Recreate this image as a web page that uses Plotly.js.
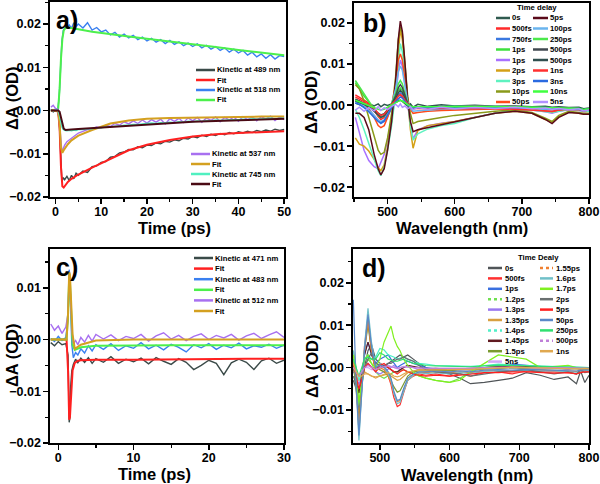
<!DOCTYPE html>
<html>
<head>
<meta charset="utf-8">
<script src="https://cdn.plot.ly/plotly-3.0.1.min.js"></script>
<style>body{margin:0;background:#fff} #chart{width:600px;height:484px}</style>
</head>
<body>
<div id="chart"></div>
<script>
// ---- panel a: kinetics, 0-50 ps ----
var ta = [-1,-0.5,0,0.5,0.8,1.1,1.4,1.7,2,2.5,
  3,3.5,4,4.5,5,6,7,8,9,10,
  11,12,13,14,15,16,17,18,19,20,
  21,22,23,24,25,26,27,28,29,30,
  31,32,33,34,35,36,37,38,39,40,
  41,42,43,44,45,46,47,48,49,50];
var k489 = [0.0002,-0.0003,0.0001,-0.0002,-0.002,-0.011,-0.0165,-0.0155,-0.0160,-0.0152,
  -0.0162,-0.0150,-0.0158,-0.0145,-0.0150,-0.0140,-0.0143,-0.0130,-0.0128,-0.0120,
  -0.0118,-0.0108,-0.0106,-0.0098,-0.0096,-0.0090,-0.0091,-0.0084,-0.0086,-0.0080,
  -0.0081,-0.0075,-0.0077,-0.0071,-0.0073,-0.0068,-0.0070,-0.0064,-0.0066,-0.0060,
  -0.0063,-0.0057,-0.0060,-0.0055,-0.0058,-0.0053,-0.0056,-0.0051,-0.0054,-0.0049,
  -0.0052,-0.0048,-0.0051,-0.0046,-0.0049,-0.0045,-0.0048,-0.0043,-0.0046,-0.0044];
var k518 = [0.0003,-0.0002,0.0004,0.0002,0.003,0.010,0.016,0.0185,0.019,0.0195,
  0.0198,0.0190,0.0203,0.0194,0.0200,0.0191,0.0203,0.0186,0.0192,0.0182,
  0.0186,0.0175,0.0181,0.0170,0.0177,0.0168,0.0174,0.0164,0.0170,0.0161,
  0.0167,0.0158,0.0164,0.0155,0.0162,0.0153,0.0159,0.0150,0.0156,0.0148,
  0.0154,0.0145,0.0151,0.0142,0.0148,0.0139,0.0145,0.0135,0.0142,0.0133,
  0.0139,0.0128,0.0135,0.0124,0.0131,0.0121,0.0129,0.0119,0.0127,0.0125];
var k537 = [0.0008,0.0012,0.0005,0.0003,-0.002,-0.007,-0.0095,-0.0088,-0.0080,-0.0072,
  -0.0068,-0.0062,-0.0060,-0.0055,-0.0052,-0.0048,-0.0044,-0.0042,-0.0038,-0.0040,
  -0.0034,-0.0037,-0.0030,-0.0034,-0.0026,-0.0031,-0.0024,-0.0030,-0.0022,-0.0029,
  -0.0021,-0.0027,-0.0020,-0.0031,-0.0019,-0.0025,-0.0018,-0.0028,-0.0017,-0.0024,
  -0.0016,-0.0027,-0.0017,-0.0023,-0.0015,-0.0026,-0.0016,-0.0022,-0.0015,-0.0025,
  -0.0014,-0.0021,-0.0015,-0.0024,-0.0014,-0.0020,-0.0013,-0.0023,-0.0015,-0.0021];
var k745 = [0.0001,-0.0001,0.0002,0,-0.0008,-0.0025,-0.0038,-0.0044,-0.0046,-0.0047,
  -0.0046,-0.0047,-0.0045,-0.0046,-0.0044,-0.0044,-0.0042,-0.0042,-0.0040,-0.0040,
  -0.0038,-0.0038,-0.0036,-0.0036,-0.0034,-0.0034,-0.0032,-0.0032,-0.0031,-0.0031,
  -0.0029,-0.0030,-0.0028,-0.0029,-0.0027,-0.0028,-0.0026,-0.0027,-0.0025,-0.0026,
  -0.0024,-0.0025,-0.0023,-0.0024,-0.0022,-0.0023,-0.0022,-0.0022,-0.0021,-0.0021,
  -0.0020,-0.0021,-0.0019,-0.0020,-0.0019,-0.0019,-0.0018,-0.0019,-0.0018,-0.0018];
var tf = [-1,0,0.6,0.9,1.2,1.5,1.8,2.2,2.7,3.5,5,8,12,16,20,25,30,35,40,45,50];
var fit489 = [0,0,-0.0003,-0.004,-0.013,-0.0175,-0.0178,-0.0172,-0.0165,-0.0158,-0.0148,-0.0132,-0.0112,-0.0092,-0.0079,-0.0068,-0.0060,-0.0055,-0.0052,-0.0050,-0.0048];
var fit518 = [0,0,0.0005,0.005,0.012,0.0165,0.0185,0.0191,0.0192,0.0191,0.0188,0.0182,0.0176,0.0171,0.0166,0.0160,0.0154,0.0147,0.0140,0.0134,0.0128];
var fit537 = [0,0,-0.0002,-0.003,-0.0085,-0.0098,-0.0092,-0.0085,-0.0078,-0.0069,-0.0058,-0.0045,-0.0030,-0.0023,-0.0019,-0.0017,-0.0016,-0.0015,-0.0015,-0.0014,-0.0014];
var fit745 = [0,0,0,-0.0003,-0.0015,-0.0032,-0.0042,-0.0045,-0.0045,-0.0044,-0.0043,-0.0041,-0.0038,-0.0035,-0.0032,-0.0029,-0.0026,-0.0024,-0.0022,-0.0020,-0.0019];

// ---- panel b: spectra 450-800 nm ----
var wb = [452,458,465,472,480,486,490,495,500,506,512,
  516,519,522,526,530,534,538,545,560,580,600,
  630,660,690,715,735,745,755,770,785,792,800];
var bNames = ['0s','500fs','750fs','1ps','1ps','2ps','3ps','10ps','50ps',
  '5ps','100ps','250ps','500ps','500ps','1ns','3ns','10ns','5ns'];
var bColors = ['#2f5a4f','#ff2a2a','#3a78e0','#3ee03e','#a870ff','#d4a017','#5ef2c0','#8a9a1a','#ff4a1a',
  '#5a0a1a','#6ab4ee','#4be84b','#404850','#2f4f4f','#ff3030','#2a6ae0','#40ff40','#b090ff'];
var bSpectra = [
  [0.0005,0.0002,-0.0003,0.0004,-0.0002,0.0003,-0.0004,0.0002,-0.0001,0.0003,0.0006,
   0.0010,0.0012,0.0009,0.0004,-0.0002,0.0003,-0.0005,0.0002,-0.0003,0.0001,-0.0002,
   0.0000,-0.0003,-0.0002,-0.0004,-0.0003,-0.0005,-0.0004,-0.0006,-0.0005,-0.0009,-0.0007],
  [0.0025,0.0018,0.0012,0.0005,-0.0012,-0.0028,-0.0035,-0.0030,-0.0018,0.0002,0.0012,
   0.0022,0.0025,0.0020,0.0010,0.0002,-0.0005,-0.0008,-0.0006,-0.0005,-0.0004,-0.0004,
   -0.0003,-0.0004,-0.0005,-0.0006,-0.0007,-0.0008,-0.0007,-0.0008,-0.0009,-0.0012,-0.0010],
  [0.0010,0.0006,0.0000,-0.0010,-0.0025,-0.0038,-0.0045,-0.0040,-0.0028,-0.0008,0.0010,
   0.0025,0.0030,0.0026,0.0014,0.0002,-0.0004,-0.0006,-0.0005,-0.0004,-0.0004,-0.0003,
   -0.0003,-0.0003,-0.0004,-0.0005,-0.0006,-0.0007,-0.0006,-0.0007,-0.0008,-0.0011,-0.0009],
  [0.0055,0.0040,0.0022,0.0008,-0.0008,-0.0022,-0.0030,-0.0026,-0.0015,0.0002,0.0018,
   0.0035,0.0042,0.0036,0.0018,0.0004,-0.0003,-0.0006,-0.0005,-0.0004,-0.0004,-0.0003,
   -0.0003,-0.0003,-0.0004,-0.0005,-0.0006,-0.0007,-0.0006,-0.0007,-0.0008,-0.0011,-0.0009],
  [-0.0030,-0.0065,-0.0110,-0.0135,-0.0150,-0.0155,-0.0140,-0.0120,-0.0085,-0.0035,0.0020,
   0.0080,0.0110,0.0095,0.0050,-0.0005,-0.0045,-0.0082,-0.0060,-0.0050,-0.0044,-0.0040,
   -0.0030,-0.0020,-0.0013,-0.0012,-0.0016,-0.0020,-0.0015,-0.0011,-0.0013,-0.0016,-0.0015],
  [-0.0080,-0.0095,-0.0100,-0.0112,-0.0132,-0.0152,-0.0160,-0.0145,-0.0102,-0.0040,0.0045,
   0.0140,0.0185,0.0160,0.0080,0.0000,-0.0060,-0.0105,-0.0062,-0.0050,-0.0045,-0.0040,
   -0.0030,-0.0020,-0.0015,-0.0020,-0.0035,-0.0042,-0.0028,-0.0017,-0.0020,-0.0022,-0.0022],
  [-0.0010,-0.0030,-0.0060,-0.0092,-0.0130,-0.0160,-0.0172,-0.0150,-0.0110,-0.0050,0.0030,
   0.0110,0.0150,0.0130,0.0070,0.0000,-0.0050,-0.0085,-0.0070,-0.0058,-0.0050,-0.0045,
   -0.0030,-0.0020,-0.0012,-0.0012,-0.0015,-0.0018,-0.0015,-0.0010,-0.0012,-0.0015,-0.0015],
  [0.0050,0.0040,0.0010,-0.0030,-0.0080,-0.0110,-0.0120,-0.0115,-0.0080,-0.0020,0.0070,
   0.0160,0.0190,0.0175,0.0100,0.0020,-0.0020,-0.0045,-0.0040,-0.0035,-0.0030,-0.0025,
   -0.0020,-0.0015,-0.0012,-0.0018,-0.0032,-0.0040,-0.0025,-0.0015,-0.0018,-0.0020,-0.0020],
  [0.0010,0.0010,0.0000,-0.0010,-0.0030,-0.0050,-0.0055,-0.0050,-0.0030,0.0000,0.0050,
   0.0110,0.0125,0.0110,0.0060,0.0010,-0.0010,-0.0020,-0.0018,-0.0015,-0.0013,-0.0012,
   -0.0010,-0.0008,-0.0008,-0.0010,-0.0014,-0.0016,-0.0012,-0.0008,-0.0010,-0.0012,-0.0012],
  [-0.0020,-0.0020,-0.0030,-0.0060,-0.0120,-0.0155,-0.0170,-0.0155,-0.0110,-0.0040,0.0060,
   0.0160,0.0205,0.0180,0.0100,0.0010,-0.0040,-0.0065,-0.0060,-0.0055,-0.0048,-0.0040,
   -0.0030,-0.0020,-0.0015,-0.0020,-0.0035,-0.0045,-0.0030,-0.0018,-0.0020,-0.0022,-0.0022],
  [0.0008,0.0005,-0.0002,-0.0012,-0.0025,-0.0036,-0.0040,-0.0036,-0.0022,0.0002,0.0040,
   0.0082,0.0095,0.0085,0.0045,0.0008,-0.0008,-0.0015,-0.0014,-0.0012,-0.0010,-0.0009,
   -0.0008,-0.0007,-0.0007,-0.0008,-0.0010,-0.0012,-0.0010,-0.0008,-0.0009,-0.0011,-0.0010],
  [0.0060,0.0045,0.0025,0.0008,-0.0010,-0.0025,-0.0030,-0.0026,-0.0014,0.0004,0.0028,
   0.0052,0.0060,0.0052,0.0028,0.0005,-0.0005,-0.0008,-0.0007,-0.0006,-0.0005,-0.0005,
   -0.0004,-0.0004,-0.0005,-0.0006,-0.0007,-0.0008,-0.0007,-0.0008,-0.0009,-0.0012,-0.0010],
  [0.0015,0.0010,0.0004,-0.0004,-0.0015,-0.0025,-0.0030,-0.0026,-0.0015,0.0002,0.0022,
   0.0042,0.0050,0.0043,0.0022,0.0004,-0.0005,-0.0008,-0.0007,-0.0006,-0.0005,-0.0005,
   -0.0004,-0.0004,-0.0005,-0.0006,-0.0007,-0.0008,-0.0007,-0.0008,-0.0009,-0.0012,-0.0010],
  [0.0010,0.0007,0.0002,-0.0004,-0.0012,-0.0020,-0.0024,-0.0021,-0.0012,0.0001,0.0016,
   0.0030,0.0036,0.0031,0.0016,0.0002,-0.0005,-0.0007,-0.0006,-0.0005,-0.0005,-0.0004,
   -0.0004,-0.0004,-0.0005,-0.0006,-0.0007,-0.0008,-0.0007,-0.0008,-0.0009,-0.0012,-0.0010],
  [0.0020,0.0015,0.0008,0.0002,-0.0008,-0.0020,-0.0025,-0.0022,-0.0012,0.0002,0.0012,
   0.0022,0.0026,0.0022,0.0012,0.0003,-0.0005,-0.0008,-0.0008,-0.0008,-0.0008,-0.0008,
   -0.0008,-0.0009,-0.0010,-0.0012,-0.0014,-0.0015,-0.0012,-0.0010,-0.0011,-0.0014,-0.0012],
  [0.0005,0.0002,-0.0006,-0.0016,-0.0030,-0.0040,-0.0044,-0.0038,-0.0024,-0.0006,0.0008,
   0.0016,0.0020,0.0017,0.0008,0.0000,-0.0005,-0.0007,-0.0006,-0.0006,-0.0005,-0.0005,
   -0.0005,-0.0005,-0.0006,-0.0007,-0.0008,-0.0009,-0.0008,-0.0009,-0.0010,-0.0013,-0.0011],
  [0.0012,0.0008,0.0003,-0.0002,-0.0006,-0.0010,-0.0012,-0.0010,-0.0005,0.0001,0.0006,
   0.0010,0.0012,0.0010,0.0005,0.0000,-0.0003,-0.0004,-0.0004,-0.0003,-0.0003,-0.0003,
   -0.0003,-0.0003,-0.0004,-0.0005,-0.0006,-0.0006,-0.0006,-0.0007,-0.0008,-0.0011,-0.0009],
  [-0.0012,-0.0005,-0.0015,-0.0006,-0.0014,-0.0004,-0.0013,-0.0006,-0.0011,-0.0003,0.0002,
   -0.0004,0.0003,-0.0005,-0.0002,-0.0009,-0.0004,-0.0011,-0.0006,-0.0010,-0.0005,-0.0009,
   -0.0006,-0.0008,-0.0005,-0.0009,-0.0007,-0.0010,-0.0008,-0.0011,-0.0009,-0.0014,-0.0012]
];

// ---- panel c: kinetics, 0-30 ps ----
var tc = [-1,-0.5,0,0.5,1,1.3,1.45,1.55,1.65,1.8,2,2.3,2.6,3,3.5,4,4.5,5,
  6,7,8,9,10,11,12,13,14,15,16,17,18,19,20,21,22,23,24,25,26,27,28,29,30];
var k471 = [-0.0006,-0.0012,-0.0004,-0.0010,-0.0008,-0.003,-0.0160,-0.0150,-0.009,-0.006,-0.0048,-0.0038,-0.0045,-0.0036,-0.0044,-0.0035,-0.0046,-0.0037,
  -0.0044,-0.0033,-0.0046,-0.0038,-0.0043,-0.0036,-0.0047,-0.0035,-0.0042,-0.0048,-0.0037,-0.0044,-0.0058,-0.0050,-0.0040,-0.0046,-0.0068,-0.0045,-0.0038,-0.0044,-0.0058,-0.0041,-0.0036,-0.0046,-0.0040];
var k483 = [0.0002,-0.0004,0.0006,-0.0002,0.0004,0.004,0.0135,0.012,0.006,-0.001,-0.0035,-0.0025,-0.0030,-0.0018,-0.0026,-0.0012,-0.0022,-0.0010,
  -0.0019,-0.0008,-0.0021,-0.0012,-0.0017,-0.0006,-0.0018,-0.0011,-0.0020,-0.0009,-0.0015,-0.0024,-0.0010,-0.0016,-0.0008,-0.0019,-0.0011,-0.0016,-0.0007,-0.0018,-0.0012,-0.0015,-0.0009,-0.0017,-0.0011];
var k512 = [0.0030,0.0018,0.0026,0.0012,0.0024,0.005,0.0125,0.0120,0.007,0.002,-0.0008,-0.0002,-0.0010,0.0004,-0.0005,0.0008,-0.0003,0.0010,
  0.0001,0.0009,-0.0002,0.0006,0.0002,0.0010,-0.0003,0.0007,0.0013,0.0001,0.0008,-0.0002,0.0006,0.0011,0.0000,0.0008,0.0003,0.0010,-0.0001,0.0007,0.0012,0.0002,0.0009,0.0015,0.0004];
var tcf = [-1,1.1,1.3,1.45,1.55,1.7,1.9,2.2,2.6,3,5,10,15,20,25,30];
var fit471 = [0,0,-0.006,-0.0155,-0.0150,-0.010,-0.006,-0.0045,-0.0041,-0.0040,-0.0039,-0.0039,-0.0038,-0.0038,-0.0037,-0.0037];
var fit483 = [0,0,0.005,0.012,0.011,0.004,-0.001,-0.002,-0.0018,-0.0015,-0.0012,-0.0011,-0.0011,-0.0011,-0.0011,-0.0011];
var fit512 = [0,0,0.005,0.013,0.0125,0.006,0.001,-0.0018,-0.0014,-0.0010,-0.0002,0,0,0,0,0];

// ---- panel d: spectra 460-800 nm ----
var wd = [462,466,470,474,478,483,488,494,500,506,512,516,
  520,525,529,534,540,548,556,566,580,600,615,630,
  650,670,690,710,730,750,770,782,788,794,800];
var dNames = ['0s','500fs','1ps','1.2ps','1.3ps','1.35ps','1.4ps','1.45ps','1.5ps','5ns',
  '1.55ps','1.6ps','1.7ps','2ps','5ps','50ps','250ps','500ps','1ns'];
var dColors = ['#505558','#ff3030','#3a70e0','#70e050','#9a78f0','#d8a040','#50f0c8','#601a20','#7a9a30','#d0a8f8',
  '#f08030','#70c0c8','#80f020','#6a7070','#ff2020','#5a88c8','#30e070','#c080d8','#e0a850'];
var dDash = ['solid','solid','solid','dot','solid','solid','dot','solid','solid','solid',
  'dot','solid','solid','solid','solid','solid','solid','dot','solid'];
var dSpectra = [
  [-0.003,-0.005,-0.006,-0.004,0.000,0.004,0.0055,0.002,0.001,0.0005,0.001,0.0015,
   0.002,0.0025,0.003,0.0025,0.003,0.002,0.001,0.000,-0.001,-0.0015,-0.0025,-0.0038,
   -0.0035,-0.003,-0.0025,-0.0012,-0.0018,-0.0028,-0.0022,-0.0038,-0.0008,-0.0035,-0.0018],
  [0.002,-0.004,-0.015,-0.006,0.005,0.012,0.004,-0.001,0.001,0.000,-0.002,-0.004,
   -0.007,-0.0092,-0.0088,-0.006,-0.003,-0.002,-0.0015,-0.0018,-0.0015,-0.002,-0.0015,-0.002,
   -0.0012,-0.001,-0.0015,-0.0008,-0.001,-0.001,-0.0012,-0.0015,-0.001,-0.0008,-0.0008],
  [0.001,-0.003,-0.010,-0.004,0.003,0.006,0.003,0.001,0.002,0.0025,0.003,0.002,
   0.001,0.000,0.0005,0.001,0.0015,0.001,0.0005,0.000,-0.0003,-0.0005,-0.0003,-0.0005,
   0.000,0.0003,0.0008,0.0005,0.0002,0.000,-0.0003,0.0000,-0.0004,-0.0002,-0.0003],
  [0.004,0.000,-0.009,-0.005,0.000,0.002,0.001,-0.001,-0.002,-0.0025,-0.002,-0.0015,
   -0.001,-0.001,-0.0008,-0.0005,-0.001,-0.0015,-0.002,-0.0025,-0.003,-0.0035,-0.0025,-0.001,
   0.000,0.0005,0.0004,0.0003,0.000,-0.0002,0.0000,-0.0002,0.0000,-0.0003,-0.0001],
  [-0.001,-0.002,-0.004,-0.002,0.000,0.001,0.000,-0.001,-0.0015,-0.001,-0.0005,0.000,
   0.0005,0.000,-0.0005,0.000,0.0005,0.000,-0.0005,-0.0008,-0.0006,-0.0008,-0.0005,-0.0006,
   -0.0003,-0.0002,0.0000,-0.0002,-0.0003,-0.0002,-0.0004,-0.0002,-0.0005,-0.0003,-0.0004],
  [0.000,-0.002,-0.003,-0.002,-0.001,-0.0015,-0.002,-0.0025,-0.002,-0.0018,-0.0015,-0.002,
   -0.0025,-0.003,-0.0028,-0.002,-0.0012,-0.0008,-0.0005,-0.0005,-0.0004,-0.0004,-0.0003,-0.0003,
   -0.0001,0.0000,0.0002,0.0001,0.0000,-0.0001,-0.0002,-0.0001,-0.0002,-0.0002,-0.0003],
  [0.002,0.000,-0.003,-0.001,0.002,0.003,0.002,0.0025,0.0045,0.0042,0.003,0.0028,
   0.0025,0.002,0.0022,0.0025,0.002,0.0015,0.001,0.0008,0.0005,0.0004,0.0004,0.0003,
   0.0005,0.0008,0.0006,0.0005,0.0003,0.0002,0.0001,0.0002,0.0000,0.0001,0.0000],
  [0.000,-0.003,-0.006,-0.002,0.003,0.006,0.003,0.000,0.0005,0.0005,0.000,-0.0005,
   -0.001,-0.001,-0.0005,0.000,0.0005,0.0003,0.0000,-0.0003,-0.0002,-0.0004,-0.0003,-0.0002,
   0.0000,0.0002,0.0003,0.0002,0.0001,0.0000,-0.0001,0.0000,-0.0002,-0.0001,-0.0002],
  [0.001,-0.005,-0.012,-0.005,0.004,0.010,0.004,0.000,-0.0005,-0.001,-0.002,-0.003,
   -0.0045,-0.0058,-0.0055,-0.004,-0.002,-0.001,-0.0008,-0.0008,-0.0006,-0.0007,-0.0005,-0.0005,
   -0.0003,-0.0002,0.0000,-0.0002,-0.0003,-0.0002,-0.0003,-0.0002,-0.0004,-0.0003,-0.0003],
  [0.000,-0.001,-0.002,-0.001,0.000,0.000,-0.0005,-0.0005,0.000,0.0003,0.0005,0.0003,
   0.000,-0.0003,0.000,0.0003,0.0002,0.0000,-0.0002,-0.0003,-0.0002,-0.0003,-0.0002,-0.0002,
   -0.0001,0.0000,0.0001,0.0000,-0.0001,0.0000,-0.0001,0.0000,-0.0002,-0.0001,-0.0001],
  [0.003,-0.003,-0.014,-0.006,0.004,0.011,0.004,-0.001,0.000,-0.0005,-0.002,-0.0035,
   -0.006,-0.008,-0.0078,-0.0055,-0.003,-0.0018,-0.0012,-0.0012,-0.001,-0.0012,-0.001,-0.0012,
   -0.0008,-0.0006,-0.0008,-0.0005,-0.0006,-0.0006,-0.0008,-0.0009,-0.0007,-0.0006,-0.0006],
  [0.004,-0.004,-0.0172,-0.007,0.005,0.014,0.006,0.000,0.001,0.000,-0.0015,-0.003,
   -0.006,-0.0085,-0.0082,-0.0058,-0.003,-0.0018,-0.0012,-0.0014,-0.0012,-0.0015,-0.0012,-0.0014,
   -0.0009,-0.0007,-0.0009,-0.0006,-0.0008,-0.0008,-0.0009,-0.0011,-0.0008,-0.0007,-0.0007],
  [0.003,-0.002,-0.008,-0.003,0.002,0.003,0.001,0.000,0.002,0.006,0.0085,0.0098,
   0.007,0.005,0.004,0.002,0.0005,-0.001,-0.002,-0.0025,-0.003,-0.0035,-0.003,-0.001,
   0.001,0.003,0.0025,0.002,0.000,0.0003,0.0005,0.0000,0.0000,-0.0003,0.0000],
  [-0.002,-0.004,-0.005,-0.003,0.000,0.002,0.0035,0.001,0.0005,0.000,0.001,0.001,
   0.0015,0.002,0.002,0.0025,0.002,0.0015,0.0005,-0.0005,-0.001,-0.0012,-0.0015,-0.002,
   -0.0015,-0.001,-0.0008,-0.0005,-0.001,-0.0015,-0.001,-0.0015,-0.0005,-0.0012,-0.001],
  [0.001,-0.002,-0.005,-0.003,0.000,0.001,0.000,-0.001,0.0005,0.001,0.000,-0.0005,
   -0.001,-0.0015,-0.001,-0.0005,-0.001,-0.0015,-0.0018,-0.002,-0.0018,-0.002,-0.0018,-0.0015,
   -0.0012,-0.0012,-0.001,-0.001,-0.0012,-0.0013,-0.0012,-0.0015,-0.0012,-0.001,-0.001],
  [0.016,-0.004,-0.016,-0.007,0.004,0.0125,0.005,0.000,0.0005,0.0003,-0.001,-0.0025,
   -0.0055,-0.0078,-0.0075,-0.005,-0.0025,-0.0015,-0.001,-0.001,-0.0008,-0.001,-0.0008,-0.001,
   -0.0006,-0.0005,-0.0006,-0.0004,-0.0005,-0.0005,-0.0006,-0.0008,-0.0006,-0.0005,-0.0005],
  [0.002,0.000,-0.002,0.000,0.002,0.0025,0.002,0.002,0.0035,0.003,0.002,0.0018,
   0.0015,0.0015,0.0018,0.002,0.0015,0.001,0.0008,0.0005,0.0004,0.0003,0.0004,0.0002,
   0.0004,0.0006,0.0005,0.0004,0.0003,0.0002,0.0001,0.0002,0.0000,0.0001,0.0000],
  [0.000,-0.001,-0.002,-0.001,0.000,0.0005,0.000,-0.0005,0.000,0.0002,0.0004,0.0002,
   0.000,-0.0002,0.000,0.0002,0.0001,0.0000,-0.0002,-0.0002,-0.0002,-0.0002,-0.0001,-0.0002,
   0.0000,0.0001,0.0001,0.0000,-0.0001,0.0000,-0.0001,0.0000,-0.0001,-0.0001,-0.0001],
  [0.001,-0.001,-0.002,-0.002,-0.0015,-0.0015,-0.002,-0.0022,-0.002,-0.0015,-0.0012,-0.0015,
   -0.002,-0.0022,-0.002,-0.0015,-0.001,-0.0008,-0.0006,-0.0006,-0.0005,-0.0005,-0.0004,-0.0004,
   -0.0002,-0.0001,0.0001,0.0000,-0.0001,-0.0001,-0.0002,-0.0002,-0.0003,-0.0002,-0.0003]
];

var FONT = 'Liberation Sans, Arial, sans-serif';
var traces = [];
function line(x, y, color, xa, ya, w, dash) {
  traces.push({x: x, y: y, type: 'scatter', mode: 'lines', xaxis: xa, yaxis: ya,
    line: {color: color, width: w, dash: dash || 'solid'}, hoverinfo: 'skip'});
}

// panel a
line(ta, k518, '#3a80f0', 'x', 'y', 1.4);
line(tf, fit518, '#4cf04c', 'x', 'y', 2);
line(ta, k489, '#3a4a48', 'x', 'y', 1.4);
line(tf, fit489, '#ff2020', 'x', 'y', 2);
line(ta, k537, '#a870f0', 'x', 'y', 1.4);
line(tf, fit537, '#d4a020', 'x', 'y', 2);
line(ta, k745, '#50f0c0', 'x', 'y', 1.4);
line(tf, fit745, '#4a0a14', 'x', 'y', 2);
// panel b
bSpectra.forEach(function (s, i) { line(wb, s, bColors[i], 'x2', 'y2', 1.5); });
// panel c
line(tc, k471, '#3a4a48', 'x3', 'y3', 1.4);
line(tcf, fit471, '#ff2020', 'x3', 'y3', 2);
line(tc, k483, '#3a80f0', 'x3', 'y3', 1.4);
line(tcf, fit483, '#4cf04c', 'x3', 'y3', 2);
line(tc, k512, '#a870f0', 'x3', 'y3', 1.4);
line(tcf, fit512, '#d4a020', 'x3', 'y3', 2);
// panel d
dSpectra.forEach(function (s, i) { line(wd, s, dColors[i], 'x4', 'y4', 1.2); });

function P(x) { return x / 600; }
function Q(y) { return 1 - y / 484; }

var tickFont = {family: FONT, size: 12.5, weight: 'bold', color: '#000'};
function axis(dom, rng, dt, mdt, anchor, fmt) {
  var a = {domain: dom, range: rng, anchor: anchor, tick0: 0, dtick: dt,
    ticks: 'outside', ticklen: 5, tickwidth: 1.5, tickcolor: '#000',
    minor: {ticks: 'outside', ticklen: 3, tick0: 0, dtick: mdt, tickwidth: 1.2, tickcolor: '#000'},
    showline: true, linewidth: 1.6, linecolor: '#000', mirror: true,
    showgrid: false, zeroline: false, tickfont: tickFont, fixedrange: true};
  if (fmt) a.tickformat = fmt;
  else a.ticklabelstandoff = -3;
  return a;
}

var shapes = [];
var annotations = [];
var legFont = {family: FONT, size: 7.7, weight: 'bold', color: '#000'};
function legendBlock(names, colors, dashes, x0, x1, xt, y0, dy) {
  names.forEach(function (n, i) {
    var y = Q(y0 + i * dy);
    shapes.push({type: 'line', xref: 'paper', yref: 'paper', x0: P(x0), x1: P(x1), y0: y, y1: y,
      line: {color: colors[i], width: 2.5, dash: dashes ? dashes[i] : 'solid'}});
    annotations.push({xref: 'paper', yref: 'paper', x: P(xt), y: y, text: n, showarrow: false,
      xanchor: 'left', yanchor: 'middle', font: legFont, borderpad: 0});
  });
}
function label(text, x, y, size, angle) {
  annotations.push({xref: 'paper', yref: 'paper', x: P(x), y: Q(y), text: text, showarrow: false,
    xanchor: 'center', yanchor: 'middle', textangle: angle || 0, borderpad: 0,
    font: {family: FONT, size: size, weight: 'bold', color: '#000'}});
}

legendBlock(['Kinetic at 489 nm', 'Fit', 'Kinetic at 518 nm', 'Fit'],
  ['#3a4a48', '#ff2020', '#3a80f0', '#4cf04c'], null, 196, 215, 216, 70, 10);
legendBlock(['Kinetic at 537 nm', 'Fit', 'Kinetic at 745 nm', 'Fit'],
  ['#a870f0', '#d4a020', '#50f0c0', '#4a0a14'], null, 191, 210, 211, 154, 10);
legendBlock(['Kinetic at 471 nm', 'Fit', 'Kinetic at 483 nm', 'Fit', 'Kinetic at 512 nm', 'Fit'],
  ['#3a4a48', '#ff2020', '#3a80f0', '#4cf04c', '#a870f0', '#d4a020'], null, 194, 213, 214, 258, 10.6);
legendBlock(bNames.slice(0, 9), bColors.slice(0, 9), null, 496, 510, 511, 18, 10.5);
legendBlock(bNames.slice(9), bColors.slice(9), null, 533, 548, 549, 18, 10.5);
legendBlock(dNames.slice(0, 10), dColors.slice(0, 10), dDash.slice(0, 10), 488, 502, 504, 268, 10.4);
legendBlock(dNames.slice(10), dColors.slice(10), dDash.slice(10), 540, 553, 555, 268, 10.4);
annotations.push({xref: 'paper', yref: 'paper', x: P(537), y: Q(8), text: 'Time delay', showarrow: false,
  xanchor: 'center', yanchor: 'middle', font: legFont});
annotations.push({xref: 'paper', yref: 'paper', x: P(538), y: Q(257), text: 'Time Dealy', showarrow: false,
  xanchor: 'center', yanchor: 'middle', font: legFont});

// axis titles and panel letters
label('Time (ps)', 174, 228, 16.5);
label('Wavelength (nm)', 462, 228, 16.5);
label('Time (ps)', 154, 474, 16.5);
label('Wavelength (nm)', 467, 475, 16.5);
label('\u0394A (OD)', 12, 98, 16.5, -90);
label('\u0394A (OD)', 311, 102, 16.5, -90);
label('\u0394A (OD)', 12, 355, 16.5, -90);
label('\u0394A (OD)', 312, 366, 16.5, -90);
label('a)', 67, 20, 25);
label('b)', 375, 23, 25);
label('c)', 67, 267, 25);
label('d)', 374, 268, 25);

var layout = {
  width: 600, height: 484,
  margin: {l: 0, r: 0, t: 0, b: 0},
  paper_bgcolor: '#fff', plot_bgcolor: '#fff',
  showlegend: false,
  xaxis: axis([P(50), P(286)], [-1.2, 50.4], 10, 5, 'y'),
  yaxis: axis([Q(197), Q(2)], [-0.02, 0.0251], 0.01, 0.005, 'x', '.2f'),
  xaxis2: axis([P(354), P(589)], [450, 800], 100, 50, 'y2'),
  yaxis2: axis([Q(197), Q(3)], [-0.0224, 0.0249], 0.01, 0.005, 'x2', '.2f'),
  xaxis3: axis([P(50), P(284)], [-1.1, 30], 10, 5, 'y3'),
  yaxis3: axis([Q(443), Q(249)], [-0.02, 0.0175], 0.01, 0.005, 'x3', '.2f'),
  xaxis4: axis([P(353), P(589)], [461.5, 800], 100, 50, 'y4'),
  yaxis4: axis([Q(443), Q(249)], [-0.0178, 0.028], 0.01, 0.005, 'x4', '.2f'),
  shapes: shapes,
  annotations: annotations
};

Plotly.newPlot('chart', traces, layout, {displayModeBar: false, staticPlot: true});
</script>
</body>
</html>
